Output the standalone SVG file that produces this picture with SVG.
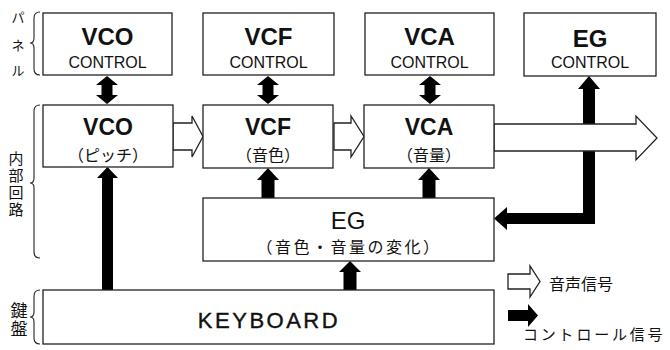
<svg xmlns="http://www.w3.org/2000/svg" width="670" height="350" viewBox="0 0 670 350">
<style>
.box{fill:#fff;stroke:#222;stroke-width:1.3}
.t{font-family:"Liberation Sans",Arial,sans-serif;fill:#111;text-anchor:middle}
.big{font-size:24px;font-weight:bold}
.mid{font-size:23px;font-weight:bold}
.ctl{font-size:16px}
.jp{font-family:"Liberation Sans","Noto Sans CJK JP",sans-serif;fill:#111;text-anchor:middle}
.hollow{fill:#fff;stroke:#222;stroke-width:1.3;stroke-linejoin:miter}
.solid{fill:#000;stroke:none}
.brace{fill:none;stroke:#222;stroke-width:1.1}
</style>
<rect width="670" height="350" fill="#fff"/>

<g id="labels-left">
<path class="brace" d="M40,12 Q34,12 34,18 L34,38 Q34,43 30,43 Q34,43 34,48 L34,69 Q34,75 40,75"/>
<text class="jp" x="18" y="22" font-size="13">パ</text>
<text class="jp" x="18" y="50" font-size="13">ネ</text>
<text class="jp" x="18" y="75" font-size="13">ル</text>
<path class="brace" d="M40,105 Q34,105 34,111 L34,178 Q34,183 30,183 Q34,183 34,188 L34,252 Q34,258 40,258"/>
<text class="jp" x="16" y="164" font-size="15">内</text>
<text class="jp" x="16" y="181" font-size="15">部</text>
<text class="jp" x="16" y="198" font-size="15">回</text>
<text class="jp" x="16" y="215" font-size="15">路</text>
<path class="brace" d="M40,290 Q34,290 34,296 L34,312 Q34,317 30,317 Q34,317 34,322 L34,338 Q34,344 40,344"/>
<text class="jp" x="19" y="317" font-size="17">鍵</text>
<text class="jp" x="19" y="335" font-size="17">盤</text>
</g>

<g id="connectors">
<!-- double arrows control <-> module -->
<polygon class="solid" points="107,76 118,85 112.5,85 112.5,95 118,95 107,104 96,95 101.5,95 101.5,85 96,85"/>
<polygon class="solid" points="268,76 279,85 273.5,85 273.5,95 279,95 268,104 257,95 262.5,95 262.5,85 257,85"/>
<polygon class="solid" points="430,76 441,85 435.5,85 435.5,95 441,95 430,104 419,95 424.5,95 424.5,85 419,85"/>
<!-- EG control <-> EG -->
<polygon class="solid" points="589,76 600,89 595,89 595,224 507,224 507,230 494,218.5 507,207 507,213 583,213 583,89 578,89"/>
<!-- keyboard -> VCO -->
<polygon class="solid" points="107.5,167 118,178 113,178 113,290 102,290 102,178 97,178"/>
<!-- EG -> VCF, EG -> VCA -->
<polygon class="solid" points="268,168 279,180 274.5,180 274.5,198 261.5,198 261.5,180 257,180"/>
<polygon class="solid" points="429,168 440,180 435.5,180 435.5,198 422.5,198 422.5,180 418,180"/>
<!-- keyboard -> EG -->
<polygon class="solid" points="350,261 361,272 356.5,272 356.5,290 343.5,290 343.5,272 339,272"/>
<!-- audio signal arrows -->
<polygon class="hollow" points="173,123 192,123 192,116 203,136.5 192,157 192,150 173,150"/>
<polygon class="hollow" points="334,123 351,123 351,116 364,136.5 351,157 351,150 334,150"/>
<polygon class="hollow" points="494,124 636,124 636,116 657,138 636,160 636,151 494,151"/>
</g>

<g id="vco-control"><rect class="box" x="43" y="13" width="129" height="62"/>
<text class="t big" x="107.5" y="45">VCO</text><text class="t ctl" x="107.5" y="68">CONTROL</text></g>
<g id="vcf-control"><rect class="box" x="203" y="13" width="131" height="62"/>
<text class="t big" x="268.5" y="45">VCF</text><text class="t ctl" x="268.5" y="68">CONTROL</text></g>
<g id="vca-control"><rect class="box" x="365" y="13" width="129" height="62"/>
<text class="t big" x="429.5" y="45">VCA</text><text class="t ctl" x="429.5" y="68">CONTROL</text></g>
<g id="eg-control"><rect class="box" x="524" y="13" width="132" height="63"/>
<text class="t big" x="590" y="47">EG</text><text class="t ctl" x="590" y="68">CONTROL</text></g>

<g id="vco"><rect class="box" x="43" y="105" width="130" height="62"/>
<text class="t mid" x="108" y="135">VCO</text><text class="jp" x="108" y="161" font-size="16">（ピッチ）</text></g>
<g id="vcf"><rect class="box" x="203" y="105" width="130" height="63"/>
<text class="t mid" x="268" y="135">VCF</text><text class="jp" x="268" y="161" font-size="16">（音色）</text></g>
<g id="vca"><rect class="box" x="364" y="105" width="130" height="63"/>
<text class="t mid" x="429" y="135">VCA</text><text class="jp" x="429" y="161" font-size="16">（音量）</text></g>
<g id="eg"><rect class="box" x="203" y="198" width="291" height="63"/>
<text class="t" x="348" y="229" font-size="24">EG</text><text class="jp" x="349" y="253" font-size="16" letter-spacing="2.5">（音色・音量の変化）</text></g>
<g id="keyboard"><rect class="box" x="43" y="290" width="451" height="54"/>
<text class="t" x="269" y="328" font-size="22" letter-spacing="2.5" stroke="#111" stroke-width="0.4">KEYBOARD</text></g>

<g id="legend">
<polygon class="hollow" points="508,274 530,274 530,266 540,281.5 530,297 530,289 508,289"/>
<text class="jp" x="549" y="290" font-size="16" style="text-anchor:start">音声信号</text>
<polygon class="solid" points="508,310 528,310 528,304 538,315.5 528,327 528,321 508,321"/>
<text class="jp" x="523" y="340" font-size="15" letter-spacing="2.8" style="text-anchor:start">コントロール信号</text>
</g>
</svg>
